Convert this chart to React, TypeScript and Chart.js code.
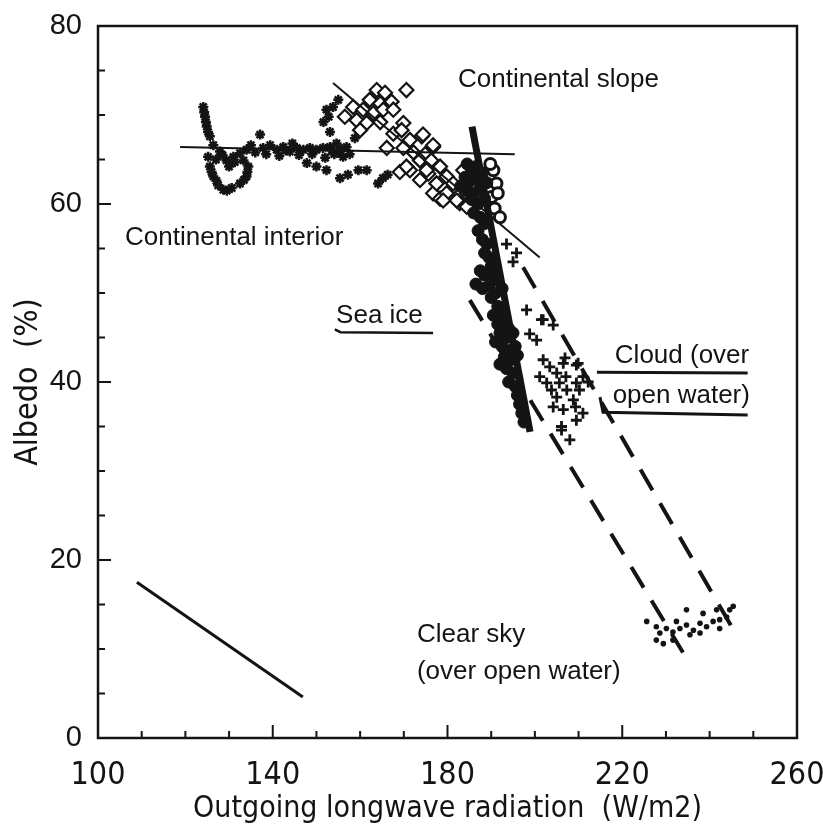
import React, { useEffect, useRef } from 'react';
import { Chart, registerables } from 'chart.js';

Chart.register(...registerables);

const INK = '#141414';

// Axis ticks
const xTickValues = [100, 140, 180, 220, 260];
const yTickValues = [0, 20, 40, 60, 80];

// Continental interior (asterisks)
const continentalInterior: [number, number][] = [
  [124.1, 70.9], [124.5, 69.8], [124.9, 68.7], [125.6, 67.6], [126.4, 66.6], [127.9, 65.9],
  [129.4, 64.9], [131.0, 65.3], [132.5, 65.7], [134.0, 66.1], [125.2, 65.3], [125.6, 64.2],
  [126.4, 63.1], [127.5, 62.1], [128.7, 61.6], [130.6, 61.8], [132.5, 62.3], [134.0, 63.1],
  [134.4, 64.2], [133.3, 64.9], [131.3, 64.7], [130.0, 64.2], [137.1, 67.8], [137.8, 66.3],
  [139.4, 66.6], [140.9, 66.1], [142.4, 66.4], [143.9, 65.9], [145.5, 66.3], [147.0, 66.1],
  [148.5, 66.3], [150.0, 66.1], [151.5, 66.3], [153.1, 66.4], [154.6, 66.8], [155.1, 65.8],
  [156.9, 66.4], [156.1, 65.3], [157.6, 65.6], [154.1, 65.6], [158.8, 67.4], [153.1, 68.1],
  [147.8, 64.6], [150.0, 64.2], [152.3, 63.8], [155.4, 62.9], [157.2, 63.3], [159.6, 63.8],
  [161.5, 63.8], [164.1, 62.3], [165.2, 62.9], [166.3, 63.3], [151.6, 69.2], [152.3, 70.6],
  [153.8, 70.9], [155.0, 71.7], [152.8, 69.8], [136.0, 65.8], [138.5, 65.6], [141.5, 65.4],
  [144.5, 66.8], [146.0, 65.5], [149.0, 65.6], [152.0, 65.2], [135.0, 66.6], [127.0, 65.0],
  [128.5, 65.5], [124.3, 70.3], [124.7, 69.2], [125.2, 68.1], [126.0, 63.6], [127.1, 62.6],
  [129.5, 61.5], [133.4, 62.7], [134.2, 63.6], [143.0, 66.0], [155.7, 66.2], [153.5, 66.0],
];

// Continental slope (open diamonds)
const continentalSlope: [number, number][] = [
  [163.8, 72.8], [165.7, 72.5], [170.6, 72.8], [162.2, 71.7], [164.6, 71.3], [167.2, 71.5],
  [158.4, 70.9], [160.7, 70.6], [163.0, 70.2], [165.3, 70.6], [167.6, 70.6], [156.5, 69.8],
  [159.2, 69.4], [161.5, 69.1], [164.6, 69.2], [160.0, 68.3], [169.9, 69.1], [167.6, 67.9],
  [169.5, 68.3], [166.1, 66.3], [169.9, 66.3], [171.4, 67.2], [174.1, 67.6], [176.7, 66.4],
  [172.2, 65.8], [174.9, 65.6], [173.7, 64.9], [176.3, 64.9], [178.3, 64.2], [169.1, 63.6],
  [171.4, 63.8], [175.6, 63.4], [179.8, 63.1], [173.7, 62.7], [177.5, 62.3], [181.3, 61.9],
  [176.7, 61.2], [179.8, 60.8], [182.8, 60.1], [178.3, 60.6], [184.4, 61.2], [183.6, 63.8],
  [174.4, 67.8], [176.7, 66.6], [170.6, 64.2], [175.2, 63.8], [177.5, 62.3], [179.8, 61.2],
  [182.1, 60.4], [184.4, 59.7], [179.0, 60.4], [181.3, 62.3],
];

// Open circles beside the sea-ice regression
const seaIceOpen: [number, number][] = [
  [190.5, 63.8], [191.2, 62.3], [190.1, 60.8], [191.5, 61.2], [190.8, 59.5], [192.0, 58.5],
  [189.8, 64.5],
];

// Sea ice (heavy dots)
const seaIce: [number, number][] = [
  [184.5, 64.5], [185.5, 63.8], [186.5, 64.2], [184.0, 63.0], [185.0, 62.5], [186.0, 62.8],
  [187.0, 63.0], [188.0, 63.5], [183.0, 62.0], [184.5, 61.5], [186.0, 61.2], [187.5, 61.8],
  [189.0, 62.4], [185.5, 60.5], [187.0, 60.0], [188.5, 60.6], [186.0, 59.0], [187.5, 58.5],
  [188.5, 57.8], [187.0, 57.0], [188.0, 56.0], [189.0, 55.5], [188.5, 54.5], [189.5, 54.0],
  [190.0, 53.0], [187.5, 52.5], [188.5, 52.0], [190.0, 52.2], [191.0, 51.5], [186.5, 51.0],
  [188.0, 50.5], [189.5, 50.8], [191.0, 50.0], [192.5, 50.5], [190.0, 49.5], [191.5, 48.5],
  [192.5, 48.0], [190.5, 47.5], [191.5, 46.5], [193.0, 47.0], [194.0, 46.0], [192.0, 45.5],
  [193.5, 45.0], [195.0, 45.5], [191.0, 44.5], [192.5, 44.0], [194.0, 43.5], [195.5, 44.0],
  [193.0, 42.8], [194.5, 42.5], [196.0, 43.0], [192.0, 42.0], [193.5, 41.5], [195.0, 41.0],
  [194.0, 40.0], [195.5, 39.5], [196.0, 38.5], [196.5, 37.5], [197.0, 36.5], [197.5, 35.5],
];

// Cloud over open water (crosses)
const cloud: [number, number][] = [
  [195.8, 54.5], [198.1, 48.1], [201.5, 47.0], [204.2, 46.4], [198.8, 45.4], [200.4, 44.7],
  [201.9, 42.5], [206.9, 42.7], [209.5, 41.9], [203.4, 41.7], [205.0, 41.0], [201.1, 40.6],
  [207.1, 40.6], [211.0, 40.6], [202.7, 39.9], [205.6, 39.9], [209.5, 39.9], [203.8, 39.1],
  [207.3, 39.1], [210.2, 39.1], [212.2, 40.0], [205.0, 38.3], [208.8, 38.0], [204.2, 37.2],
  [206.5, 36.9], [209.3, 37.2], [211.0, 36.5], [209.5, 35.7], [206.1, 34.6], [208.0, 33.5],
  [201.9, 47.0], [206.5, 42.1], [209.9, 42.1], [206.1, 35.0], [193.5, 55.5], [195.0, 53.5],
];

// Clear sky over open water (small dots)
const clearSky: [number, number][] = [
  [225.6, 13.1], [227.8, 12.5], [228.6, 11.8], [230.1, 12.3], [231.6, 11.9], [233.2, 12.3],
  [234.7, 12.7], [236.3, 12.1], [237.8, 12.9], [239.3, 12.5], [240.8, 13.1], [242.3, 13.3],
  [243.9, 13.6], [244.6, 14.4], [245.4, 14.8], [234.7, 14.4], [241.6, 14.4], [238.5, 14.0],
  [227.8, 11.0], [229.4, 10.6], [231.6, 11.0], [235.5, 11.6], [237.8, 11.8], [232.4, 13.1],
  [242.3, 12.3],
];

// Fitted / drawn lines
const interiorFit: [number, number][] = [[118.8, 66.4], [195.4, 65.6]];
const slopeFit: [number, number][] = [[153.8, 73.6], [201.1, 54.0]];
const seaIceFit: [number, number][] = [[185.6, 68.7], [198.9, 34.4]];
const cloudEnvelopeLeft: [number, number][] = [[185.1, 49.2], [233.9, 9.6]];
const cloudEnvelopeRight: [number, number][] = [[197.3, 52.9], [246.1, 11.6]];
const referenceLine: [number, number][] = [[108.9, 17.5], [146.9, 4.6]];
const seaIceUnderline: [number, number][] = [[154.2, 45.9], [155.5, 45.6], [176.7, 45.5]];
const cloudUnderline1: [number, number][] = [[214.2, 41.1], [248.7, 41.0]];
const cloudUnderline2: [number, number][] = [[214.9, 38.3], [215.6, 36.6], [248.7, 36.3]];

// Region labels
const labelTexts = [
  'Continental slope',
  'Continental interior',
  'Sea ice',
  'Cloud (over',
  'open water)',
  'Clear sky',
  '(over open water)',
];
const labelAnchors: [number, number][] = [
  [182.4, 74.0], [106.2, 56.2], [154.5, 47.4], [218.3, 42.9], [217.8, 38.5], [173.0, 11.6], [173.0, 7.4],
];

const toXY = (arr: [number, number][]) => arr.map(([x, y]) => ({ x, y }));

const lineDs = (data: [number, number][], width: number, dash: number[] = []) => ({
  type: 'line' as const,
  data: toXY(data),
  showLine: true,
  borderColor: INK,
  borderWidth: width,
  borderDash: dash,
  pointRadius: 0,
  fill: false,
  tension: 0,
  order: 0,
});

const framePlugin = {
  id: 'frameAndText',
  afterDraw(chart: any) {
    const { ctx, chartArea: a, scales } = chart;
    const xs = scales.x;
    const ys = scales.y;
    ctx.save();
    ctx.strokeStyle = INK;
    ctx.lineWidth = 2.5;
    ctx.strokeRect(a.left, a.top, a.right - a.left, a.bottom - a.top);
    ctx.lineWidth = 2;
    ctx.beginPath();
    for (let v = 100; v <= 260; v += 10) {
      const px = xs.getPixelForValue(v);
      const len = (v - 100) % 40 === 0 ? 13 : 7;
      ctx.moveTo(px, a.bottom);
      ctx.lineTo(px, a.bottom - len);
    }
    for (let v = 0; v <= 80; v += 5) {
      const py = ys.getPixelForValue(v);
      const len = v % 20 === 0 ? 13 : 7;
      ctx.moveTo(a.left, py);
      ctx.lineTo(a.left + len, py);
    }
    ctx.stroke();
    ctx.fillStyle = INK;
    ctx.font = '26px "Liberation Sans", Arial, sans-serif';
    ctx.textBaseline = 'middle';
    ctx.textAlign = 'left';
    labelTexts.forEach((t, i) => {
      const [vx, vy] = labelAnchors[i];
      ctx.fillText(t, xs.getPixelForValue(vx), ys.getPixelForValue(vy));
    });
    ctx.restore();
  },
};

export default function App() {
  const ref = useRef<HTMLCanvasElement | null>(null);

  useEffect(() => {
    if (!ref.current) return;
    const chart = new Chart(ref.current, {
      type: 'scatter',
      data: {
        datasets: [
          lineDs(seaIceFit, 7),
          lineDs(interiorFit, 2),
          lineDs(slopeFit, 2),
          lineDs(cloudEnvelopeLeft, 4, [24, 15]),
          lineDs(cloudEnvelopeRight, 4, [24, 15]),
          lineDs(referenceLine, 3),
          lineDs(seaIceUnderline, 2.5),
          lineDs(cloudUnderline1, 3),
          lineDs(cloudUnderline2, 3),
          {
            data: toXY(seaIce),
            pointStyle: 'circle',
            pointRadius: 6,
            backgroundColor: INK,
            borderColor: INK,
            borderWidth: 1,
            order: 1,
          },
          {
            data: toXY(seaIceOpen),
            pointStyle: 'circle',
            pointRadius: 5.5,
            backgroundColor: '#ffffff',
            borderColor: INK,
            borderWidth: 3,
            order: 2,
          },
          {
            data: toXY(continentalSlope),
            pointStyle: 'rectRot',
            pointRadius: 7,
            backgroundColor: '#ffffff',
            borderColor: INK,
            borderWidth: 2.2,
            order: 3,
          },
          {
            data: toXY(continentalInterior),
            pointStyle: 'star',
            pointRadius: 5,
            backgroundColor: INK,
            borderColor: INK,
            borderWidth: 2.5,
            order: 4,
          },
          {
            data: toXY(cloud),
            pointStyle: 'cross',
            pointRadius: 5.5,
            backgroundColor: INK,
            borderColor: INK,
            borderWidth: 2.8,
            order: 4,
          },
          {
            data: toXY(clearSky),
            pointStyle: 'circle',
            pointRadius: 2.8,
            backgroundColor: INK,
            borderColor: INK,
            borderWidth: 0,
            order: 4,
          },
        ] as any,
      },
      options: {
        animation: false,
        responsive: true,
        maintainAspectRatio: false,
        layout: { padding: { left: 0, top: 26, right: 26, bottom: 0 } },
        plugins: { legend: { display: false }, tooltip: { enabled: false } },
        scales: {
          x: {
            type: 'linear',
            min: 100,
            max: 260,
            afterFit: (s: any) => { s.height = 96; s.paddingLeft = 0; s.paddingRight = 0; },
            afterBuildTicks: (s: any) => { s.ticks = xTickValues.map((value) => ({ value })); },
            grid: { display: false, drawTicks: false },
            border: { display: false },
            ticks: {
              color: INK,
              padding: 18,
              maxRotation: 0,
              autoSkip: false,
              font: { family: '"Liberation Sans Narrow", "DejaVu Sans Condensed", sans-serif', size: 32 },
            },
            title: {
              display: true,
              text: 'Outgoing longwave radiation  (W/m2)',
              color: INK,
              padding: { top: 0, bottom: 7 },
              font: { family: '"Liberation Sans Narrow", "DejaVu Sans Condensed", sans-serif', size: 30 },
            },
          },
          y: {
            type: 'linear',
            min: 0,
            max: 80,
            afterFit: (s: any) => { s.width = 98; s.paddingTop = 0; s.paddingBottom = 0; },
            afterBuildTicks: (s: any) => { s.ticks = yTickValues.map((value) => ({ value })); },
            grid: { display: false, drawTicks: false },
            border: { display: false },
            ticks: {
              color: INK,
              padding: 16,
              font: { family: '"Liberation Sans", Arial, sans-serif', size: 29 },
            },
            title: {
              display: true,
              text: 'Albedo  (%)',
              color: INK,
              padding: { top: 9, bottom: 0 },
              font: { family: '"Liberation Sans Narrow", "DejaVu Sans Condensed", sans-serif', size: 32 },
            },
          },
        },
      },
      plugins: [framePlugin],
    });
    return () => chart.destroy();
  }, []);

  return (
    <div style={{ position: 'absolute', left: 0, top: 0, width: 823, height: 834, background: '#fff' }}>
      <canvas ref={ref} />
    </div>
  );
}
